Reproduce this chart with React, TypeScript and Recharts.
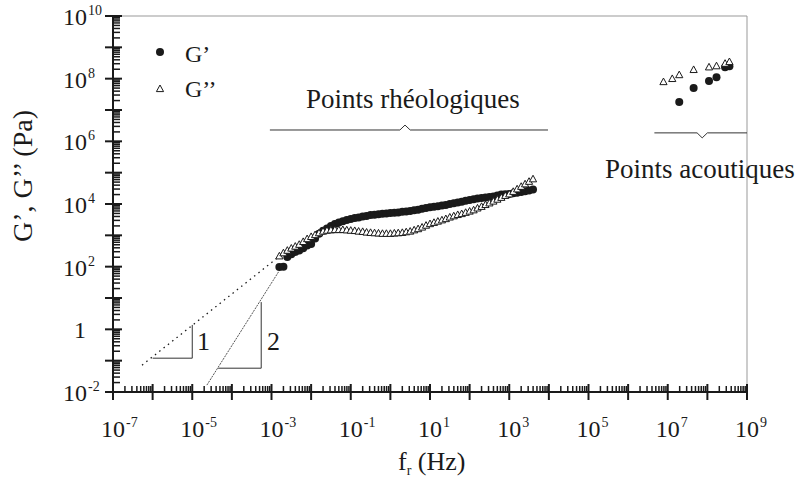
import { ScatterChart, Scatter, XAxis, YAxis, ReferenceLine } from 'recharts';

document.body.style.margin = '0';

// rheometer sweep (Hz) and moduli (Pa)
const freqRheo = [
  0.00158, 0.002, 0.00251, 0.00316, 0.00398, 0.00501, 0.00631, 0.00794,
  0.01, 0.0126, 0.0158, 0.02, 0.0251, 0.0316, 0.0398, 0.0501, 0.0631, 0.0794,
  0.1, 0.126, 0.158, 0.2, 0.251, 0.316, 0.398, 0.501, 0.631, 0.794,
  1, 1.26, 1.58, 2, 2.51, 3.16, 3.98, 5.01, 6.31, 7.94,
  10, 12.6, 15.8, 20, 25.1, 31.6, 39.8, 50.1, 63.1, 79.4,
  100, 126, 158, 200, 251, 316, 398, 501, 631, 794,
  1000, 1260, 1580, 2000, 2510, 3160, 3980,
];
const gPrimeRheo = [
  98, 100, 204, 250, 295, 330, 390, 470,
  525, 790, 1120, 1410, 1660, 2000, 2290, 2570, 2820, 3090,
  3310, 3550, 3720, 3980, 4170, 4470, 4570, 4680, 4900, 5010,
  5130, 5250, 5370, 5620, 5750, 6030, 6310, 6610, 7080, 7410,
  7940, 8130, 8510, 8910, 9330, 10000, 10500, 11200, 11700, 12600,
  13500, 14100, 15100, 15500, 16200, 16600, 17400, 18600, 20000, 20400,
  20900, 21900, 22900, 24000, 25700, 26900, 28800,
];
const gSecondRheo = [
  214, 269, 324, 380, 437, 501, 617, 760,
  890, 1020, 1170, 1320, 1410, 1450, 1480, 1480, 1480, 1450,
  1410, 1380, 1320, 1290, 1230, 1200, 1170, 1150, 1120, 1120,
  1120, 1150, 1170, 1200, 1260, 1320, 1450, 1580, 1780, 2040,
  2290, 2510, 2750, 3020, 3310, 3720, 4070, 4470, 4790, 5250,
  5750, 6310, 7240, 8130, 9330, 10500, 12000, 13800, 15800, 18200,
  20400, 24500, 29500, 35500, 42700, 51300, 61700,
];

// acoustic measurements
const freqAcPrime = [1.95e7, 4.5e7, 1.1e8, 1.7e8, 2.8e8, 3.6e8];
const gPrimeAc = [1.8e7, 5.0e7, 8.5e7, 1.1e8, 2.3e8, 2.5e8];
const freqAcSecond = [7.8e6, 1.3e7, 1.95e7, 4.5e7, 1.1e8, 1.7e8, 2.8e8, 3.6e8];
const gSecondAc = [7.8e7, 9.8e7, 1.3e8, 1.9e8, 2.3e8, 2.5e8, 3.0e8, 3.4e8];

const xLabelExps = [-7, -5, -3, -1, 1, 3, 5, 7, 9];
const yLabelExps = [-2, 0, 2, 4, 6, 8, 10];

const X_MIN_EXP = -7;
const X_MAX_EXP = 9;
const Y_MIN_EXP = -2;
const Y_MAX_EXP = 10;

const logTicks = (lo: number, hi: number) => {
  const out: number[] = [];
  for (let e = lo; e < hi; e++) {
    for (let m = 1; m < 10; m++) out.push(m * Math.pow(10, e));
  }
  out.push(Math.pow(10, hi));
  return out;
};

const FONT = '"Liberation Serif", "Times New Roman", serif';
const INK = '#1a1a1a';

const rheoPrime = freqRheo.map((f, i) => ({ f, g: gPrimeRheo[i] }));
const rheoSecond = freqRheo.map((f, i) => ({ f, g: gSecondRheo[i] }));
const acPrime = freqAcPrime.map((f, i) => ({ f, g: gPrimeAc[i] }));
const acSecond = freqAcSecond.map((f, i) => ({ f, g: gSecondAc[i] }));

const expOf = (v: number) => {
  const e = Math.log10(v);
  const r = Math.round(e);
  return Math.abs(e - r) < 1e-6 ? r : null;
};

function XTick(props: any) {
  const { x, y, payload } = props;
  const exp = expOf(payload.value);
  if (exp === null) {
    return <line x1={x} x2={x} y1={y} y2={y - 6} stroke={INK} strokeWidth={1.5} />;
  }
  return (
    <g>
      <line x1={x} x2={x} y1={y - 8} y2={y + 8} stroke={INK} strokeWidth={2} />
      {xLabelExps.includes(exp) && (
        <g fontFamily={FONT} fill={INK}>
          <text x={x} y={y + 45} fontSize={24} textAnchor="middle">10</text>
          <text x={x + 13} y={y + 35} fontSize={14}>{exp}</text>
        </g>
      )}
    </g>
  );
}

function YTick(props: any) {
  const { x, y, payload } = props;
  const exp = expOf(payload.value);
  if (exp === null) {
    return <line x1={x} x2={x + 7} y1={y} y2={y} stroke={INK} strokeWidth={1.5} />;
  }
  return (
    <g>
      <line x1={x - 8} x2={x + 9} y1={y} y2={y} stroke={INK} strokeWidth={2} />
      {yLabelExps.includes(exp) && (
        <g fontFamily={FONT} fill={INK}>
          {exp === 0 ? (
            <text x={x - 27} y={y + 9} fontSize={24} textAnchor="end">1</text>
          ) : (
            <>
              <text x={x - 26} y={y + 9} fontSize={24} textAnchor="end">10</text>
              <text x={x - 25} y={y - 1} fontSize={14}>{exp}</text>
            </>
          )}
        </g>
      )}
    </g>
  );
}

const Dot = (p: any) => <circle cx={p.cx} cy={p.cy} r={4} fill={INK} />;
const Tri = (p: any) => (
  <path
    d={`M${p.cx},${p.cy - 4} L${p.cx + 3.6},${p.cy + 2.6} L${p.cx - 3.6},${p.cy + 2.6} Z`}
    fill="#fff"
    stroke={INK}
    strokeWidth={1}
  />
);

export default function App() {
  return (
    <div style={{ position: 'relative', width: 797, height: 486, background: '#fff' }}>
      <ScatterChart width={797} height={486} margin={{ top: 16, right: 50, left: 0, bottom: 0 }}>
        <XAxis
          type="number"
          dataKey="f"
          scale="log"
          domain={[Math.pow(10, X_MIN_EXP), Math.pow(10, X_MAX_EXP)]}
          allowDataOverflow
          ticks={logTicks(X_MIN_EXP, X_MAX_EXP)}
          interval={0}
          tick={<XTick />}
          tickLine={false}
          tickSize={0}
          tickMargin={0}
          height={94}
          axisLine={{ stroke: INK, strokeWidth: 2 }}
        />
        <YAxis
          type="number"
          dataKey="g"
          scale="log"
          domain={[Math.pow(10, Y_MIN_EXP), Math.pow(10, Y_MAX_EXP)]}
          allowDataOverflow
          ticks={logTicks(Y_MIN_EXP, Y_MAX_EXP)}
          interval={0}
          tick={<YTick />}
          tickLine={false}
          tickSize={0}
          tickMargin={0}
          width={113}
          axisLine={{ stroke: INK, strokeWidth: 2 }}
        />
        <ReferenceLine y={1e10} stroke="#999" strokeWidth={1} />
        <ReferenceLine x={1e9} stroke="#999" strokeWidth={1} />

        {/* slope 1 guide */}
        <ReferenceLine segment={[{ x: 5.4e-7, y: 0.072 }, { x: 1.48e-3, y: 200 }]} stroke={INK} strokeWidth={1.3} strokeDasharray="1.5 4" />
        <ReferenceLine segment={[{ x: 1e-6, y: 0.12 }, { x: 1e-5, y: 0.12 }]} stroke="#333" strokeWidth={1} />
        <ReferenceLine segment={[{ x: 1e-5, y: 0.12 }, { x: 1e-5, y: 1.38 }]} stroke="#333" strokeWidth={1} />
        {/* slope 2 guide */}
        <ReferenceLine segment={[{ x: 2.34e-5, y: 0.0166 }, { x: 1.66e-3, y: 83 }]} stroke="#555" strokeWidth={1} strokeDasharray="2 1" />
        <ReferenceLine segment={[{ x: 4.5e-5, y: 0.0575 }, { x: 5.5e-4, y: 0.0575 }]} stroke="#333" strokeWidth={1} />
        <ReferenceLine segment={[{ x: 5.5e-4, y: 0.0575 }, { x: 5.5e-4, y: 7.4 }]} stroke="#333" strokeWidth={1} />

        {/* brackets */}
        <ReferenceLine segment={[{ x: 9.1e-4, y: 2.3e6 }, { x: 1.74, y: 2.3e6 }]} stroke="#333" strokeWidth={1} />
        <ReferenceLine segment={[{ x: 1.74, y: 2.3e6 }, { x: 2.34, y: 3.3e6 }]} stroke="#333" strokeWidth={1} />
        <ReferenceLine segment={[{ x: 2.34, y: 3.3e6 }, { x: 3.16, y: 2.3e6 }]} stroke="#333" strokeWidth={1} />
        <ReferenceLine segment={[{ x: 3.16, y: 2.3e6 }, { x: 9.5e3, y: 2.3e6 }]} stroke="#333" strokeWidth={1} />
        <ReferenceLine segment={[{ x: 4.6e6, y: 1.86e6 }, { x: 5.5e7, y: 1.86e6 }]} stroke="#333" strokeWidth={1} />
        <ReferenceLine segment={[{ x: 5.5e7, y: 1.86e6 }, { x: 7.4e7, y: 1.29e6 }]} stroke="#333" strokeWidth={1} />
        <ReferenceLine segment={[{ x: 7.4e7, y: 1.29e6 }, { x: 1e8, y: 1.86e6 }]} stroke="#333" strokeWidth={1} />
        <ReferenceLine segment={[{ x: 1e8, y: 1.86e6 }, { x: 1e9, y: 1.86e6 }]} stroke="#333" strokeWidth={1} />

        <Scatter data={rheoPrime} shape={Dot} isAnimationActive={false} />
        <Scatter data={acPrime} shape={Dot} isAnimationActive={false} />
        <Scatter data={rheoSecond} shape={Tri} isAnimationActive={false} />
        <Scatter data={acSecond} shape={Tri} isAnimationActive={false} />
      </ScatterChart>

      <svg
        width={797}
        height={486}
        style={{ position: 'absolute', left: 0, top: 0, pointerEvents: 'none' }}
        fontFamily={FONT}
        fill={INK}
      >
        {/* legend */}
        <circle cx={160} cy={52} r={4} fill={INK} />
        <text x={185} y={62} fontSize={24}>G’</text>
        <path d="M160,85 L163.6,91.6 L156.4,91.6 Z" fill="#fff" stroke={INK} strokeWidth={1} />
        <text x={185} y={97} fontSize={24}>G’’</text>

        <text x={306} y={108} fontSize={27}>Points rhéologiques</text>
        <text x={605} y={178} fontSize={27}>Points acoutiques</text>

        <text x={197} y={350} fontSize={26}>1</text>
        <text x={267} y={350} fontSize={26}>2</text>

        <text transform="translate(32,176) rotate(-90)" textAnchor="middle" fontSize={28}>
          G’, G’’ (Pa)
        </text>
        <text x={398} y={470} fontSize={26}>
          f<tspan fontSize={14} dy={5}>r</tspan>
          <tspan dy={-5}> (Hz)</tspan>
        </text>
      </svg>
    </div>
  );
}
